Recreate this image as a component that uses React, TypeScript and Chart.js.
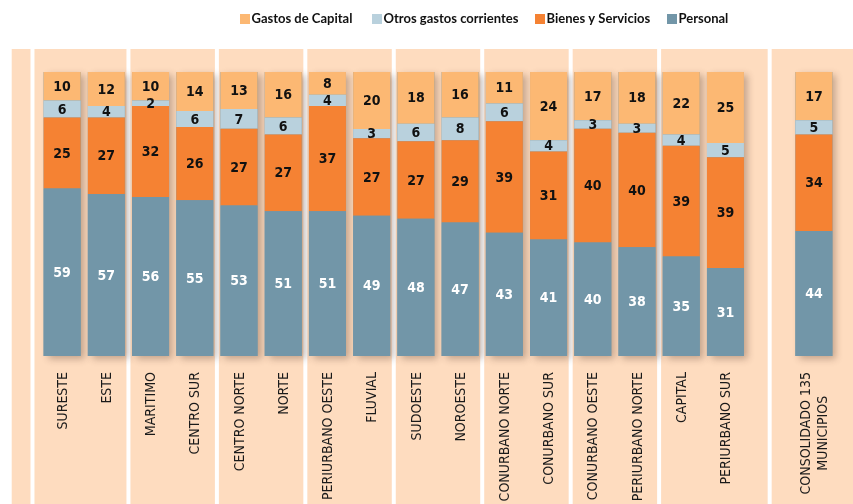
import React, { useEffect, useRef } from "react";
import { Chart, registerables } from "chart.js";

Chart.register(...registerables);

const categories: string[][] = [
  ["SURESTE"], ["ESTE"], ["MARITIMO"], ["CENTRO SUR"], ["CENTRO NORTE"], ["NORTE"],
  ["PERIURBANO OESTE"], ["FLUVIAL"], ["SUDOESTE"], ["NOROESTE"], ["CONURBANO NORTE"],
  ["CONURBANO SUR"], ["CONURBANO OESTE"], ["PERIURBANO NORTE"], ["CAPITAL"], ["PERIURBANO SUR"],
  [""], ["CONSOLIDADO 135", "MUNICIPIOS"],
];

const personal = [59, 57, 56, 54.8, 53, 51, 51, 49.4, 48.3, 47, 43.4, 41, 40, 38.3, 35, 31, null, 44];
const bienes = [25, 27, 32, 25.8, 27, 27, 37, 27.3, 27.3, 29, 39.3, 31, 40, 40.3, 39, 39, null, 34];
const otros = [6, 4, 2, 5.7, 7, 6, 4, 3.2, 6.2, 8, 6.2, 4, 3, 3.2, 4, 5, null, 5];
const capital = [10, 12, 10, 13.7, 13, 16, 8, 20.1, 18.2, 16, 11.1, 24, 17, 18.2, 22, 25, null, 17];

const seriesNames = ["Personal", "Bienes y Servicios", "Otros gastos corrientes", "Gastos de Capital"];
const seriesColors = ["#7296A8", "#F58233", "#B9D1DD", "#FCB873"];
const panelColor = "#FEDCBF";

const NARROW = '"Liberation Sans Narrow", "DejaVu Sans Condensed", "Arial Narrow", sans-serif';

const panelsPlugin = {
  id: "panels",
  beforeDraw(chart: any) {
    const { ctx, chartArea } = chart;
    const x = chart.scales.x;
    const px = (v: number) => x.getPixelForValue(v);
    const bounds = [-0.67, 1.5, 3.5, 5.5, 7.5, 9.5, 11.5, 13.5, 16].map(px);
    const starts = [px(-1.14), ...bounds.map((b) => b + 2)];
    const ends = [...bounds.map((b) => b - 2), chart.width];
    const top = chartArea.top - 23;
    ctx.save();
    ctx.fillStyle = panelColor;
    for (let i = 0; i < starts.length; i++) {
      ctx.fillRect(starts[i], top, ends[i] - starts[i], chart.height - top);
    }
    ctx.restore();
  },
};

const shadowPlugin = {
  id: "barShadow",
  beforeDatasetsDraw(chart: any) {
    const { ctx } = chart;
    const first = chart.getDatasetMeta(0);
    const last = chart.getDatasetMeta(chart.data.datasets.length - 1);
    ctx.save();
    ctx.shadowColor = "rgba(70,45,30,0.32)";
    ctx.shadowBlur = 7;
    ctx.shadowOffsetX = 4;
    ctx.shadowOffsetY = 3;
    ctx.fillStyle = seriesColors[0];
    first.data.forEach((el: any, i: number) => {
      if (personal[i] == null) return;
      const topEl = last.data[i];
      const w = el.width;
      ctx.fillRect(el.x - w / 2, topEl.y, w, el.base - topEl.y);
    });
    ctx.restore();
  },
};

const valueLabelsPlugin = {
  id: "valueLabels",
  afterDatasetsDraw(chart: any) {
    const { ctx } = chart;
    ctx.save();
    ctx.font = `bold 14px ${NARROW}`;
    ctx.textAlign = "center";
    ctx.textBaseline = "middle";
    chart.data.datasets.forEach((ds: any, d: number) => {
      const meta = chart.getDatasetMeta(d);
      meta.data.forEach((el: any, i: number) => {
        const v = ds.data[i];
        if (v == null) return;
        ctx.fillStyle = d === 0 ? "#ffffff" : "#111111";
        ctx.fillText(String(Math.round(v)), el.x, (el.y + el.base) / 2 + 1);
      });
    });
    ctx.restore();
  },
};

const axisLabelsPlugin = {
  id: "axisLabels",
  afterDraw(chart: any) {
    const { ctx, chartArea } = chart;
    const x = chart.scales.x;
    const y0 = chartArea.bottom + 16;
    ctx.save();
    ctx.font = `14px ${NARROW}`;
    ctx.fillStyle = "#1a1a1a";
    ctx.textBaseline = "middle";
    categories.forEach((lines, i) => {
      if (!lines[0]) return;
      const cx = x.getPixelForValue(i);
      ctx.save();
      ctx.translate(cx, y0);
      ctx.rotate(-Math.PI / 2);
      if (lines.length === 1) {
        ctx.textAlign = "right";
        ctx.fillText(lines[0], 0, 1);
      } else {
        const wMax = Math.max(...lines.map((l) => ctx.measureText(l).width));
        ctx.textAlign = "center";
        const lh = 17;
        lines.forEach((l, j) => {
          ctx.fillText(l, -wMax / 2, (j - (lines.length - 1) / 2) * lh + 1);
        });
      }
      ctx.restore();
    });
    ctx.restore();
  },
};

const legendPlugin = {
  id: "customLegend",
  afterDraw(chart: any) {
    const { ctx } = chart;
    ctx.save();
    ctx.font = 'bold 13px Lato, "Open Sans", sans-serif';
    ctx.textBaseline = "middle";
    ctx.textAlign = "left";
    const boxX = [240, 372, 535, 667];
    const yc = 19;
    let k = 0;
    for (let d = seriesNames.length - 1; d >= 0; d--, k++) {
      ctx.fillStyle = seriesColors[d];
      ctx.fillRect(boxX[k], yc - 5, 10, 10);
      ctx.fillStyle = "#111111";
      ctx.fillText(seriesNames[d], boxX[k] + 11.5, yc);
    }
    ctx.restore();
  },
};

export default function App() {
  const ref = useRef<HTMLCanvasElement>(null);
  useEffect(() => {
    document.body.style.margin = "0";
    const seriesData = [personal, bienes, otros, capital];
    const chart = new Chart(ref.current as HTMLCanvasElement, {
      type: "bar",
      data: {
        labels: categories.map((c) => c.join(" ")),
        datasets: seriesData.map((data, i) => ({
          label: seriesNames[i],
          data: data as any,
          backgroundColor: seriesColors[i],
          borderWidth: 0,
          barPercentage: 0.837,
          categoryPercentage: 1,
        })),
      },
      options: {
        responsive: false,
        animation: false,
        layout: { padding: { left: 40, right: 17, top: 72, bottom: 0 } },
        plugins: {
          legend: { display: false },
          tooltip: { enabled: false },
          title: { display: false },
        },
        scales: {
          x: {
            stacked: true,
            display: true,
            grid: { display: false, drawTicks: false },
            border: { display: false },
            ticks: { display: false },
            afterFit: (scale: any) => {
              scale.height = 148;
            },
          },
          y: {
            stacked: true,
            display: false,
            min: 0,
            max: 100,
          },
        },
      },
      plugins: [panelsPlugin, shadowPlugin, valueLabelsPlugin, axisLabelsPlugin, legendPlugin],
    });
    return () => chart.destroy();
  }, []);
  return (
    <canvas
      ref={ref}
      width={853}
      height={504}
      style={{ display: "block", width: 853, height: 504 }}
    />
  );
}
